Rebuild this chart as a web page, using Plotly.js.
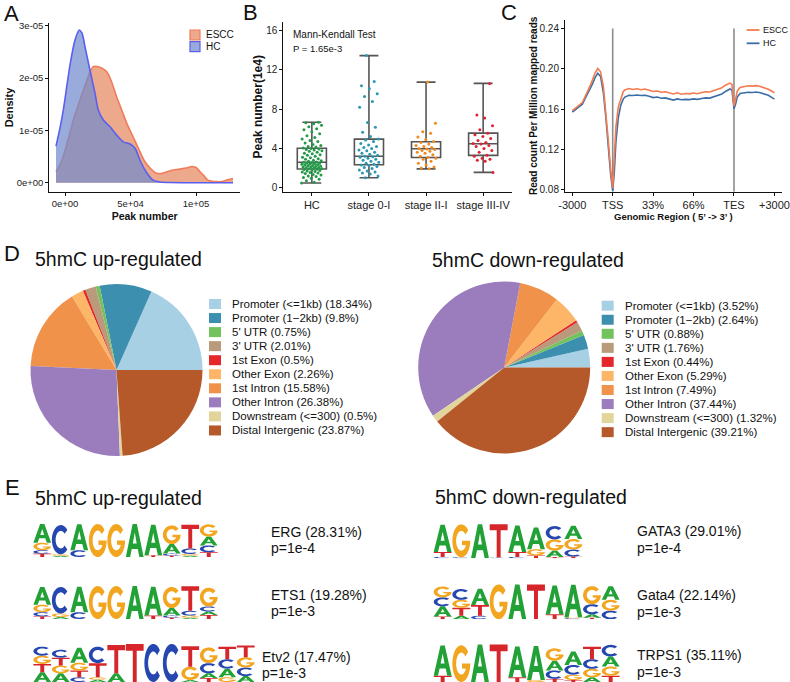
<!DOCTYPE html>
<html><head><meta charset="utf-8">
<script src="https://cdn.plot.ly/plotly-3.0.1.min.js"></script>
<style>html,body{margin:0;padding:0;background:#fff}#chart{width:790px;height:682px}</style>
</head><body><div id="chart"></div>
<script>
const FONT = 'Liberation Sans, Arial, Helvetica, sans-serif';
const W = 790, H = 682;
const px = x => x / W;
const py = y => 1 - y / H;
const dx = (a, b) => [a / W, b / W];
const dy = (t, b) => [1 - b / H, 1 - t / H];

// ---------- Panel A: density ----------
const densXTickVals = [0, 50000, 100000];
const densXTickText = ['0e+00', '5e+04', '1e+05'];
const densYTickVals = [0, 1e-5, 2e-5, 3e-5];
const densYTickText = ['0e+00', '1e-05', '2e-05', '3e-05'];
const esccDensX = [-6870,-2290,2290,6870,11450,16030,19080,21600,24430,28240,31830,35110,39470,43280,47100,51910,57250,61070,64890,68700,72520,76340,80150,87790,92370,96720,100000,103050,106110,109160,115800,119850,123430,128240];
const esccDensY = [0.21,0.43,0.82,1.24,1.58,1.91,2.12,2.22,2.22,2.19,2.12,1.96,1.64,1.39,1.14,0.88,0.59,0.40,0.28,0.195,0.17,0.195,0.23,0.26,0.28,0.31,0.29,0.21,0.13,0.05,0.02,0.023,0.05,0.08]; // x1e-5
const hcDensX = [-6870,-3817,-1300,1530,3817,7634,10916,12980,15270,19080,22900,25420,29240,34350,39470,44500,49620,53440,57250,62370,67180,72520,80150,128240];
const hcDensY = [0.70,1.05,1.39,1.87,2.25,2.73,2.92,2.86,2.60,2.15,1.71,1.39,1.20,1.07,0.91,0.78,0.74,0.66,0.43,0.19,0.05,0.013,0.004,0]; // x1e-5
const densGroups = ['ESCC', 'HC'];

// ---------- Panel B: box plots ----------
const stageCats = ['HC', 'stage 0-I', 'stage II-I', 'stage III-IV'];
const boxLow = [0.48, 1.02, 1.92, 1.56];
const boxQ1 = [1.90, 2.34, 3.08, 3.29];
const boxMed = [2.59, 3.20, 3.96, 4.48];
const boxQ3 = [4.01, 4.95, 4.68, 5.56];
const boxHigh = [6.66, 13.45, 10.75, 10.62];
const ptsHC = [0.48,0.55,0.7,0.85,0.95,1.05,1.15,1.2,1.3,1.35,1.45,1.5,1.55,1.6,1.65,1.7,1.75,1.8,1.85,1.88,
  1.92,1.95,2.0,2.02,2.05,2.1,2.12,2.15,2.2,2.22,2.25,2.3,2.33,2.38,2.4,2.45,2.48,2.5,2.55,2.58,
  2.62,2.7,2.75,2.8,2.9,2.95,3.05,3.1,3.2,3.3,3.35,3.45,3.5,3.6,3.7,3.75,3.85,3.9,3.95,4.0,
  4.05,4.15,4.2,4.3,4.4,4.55,4.7,4.8,4.95,5.1,5.3,5.5,5.7,5.9,6.0,6.2,6.35,6.5,6.6,6.66];
const ptsS0 = [1.02,1.2,1.4,1.5,1.6,1.7,1.8,1.95,2.05,2.15,2.25,2.3,2.4,2.5,2.6,2.7,2.8,2.9,3.0,3.1,3.15,3.2,3.3,3.4,3.5,3.6,3.75,3.85,4.0,4.1,4.2,4.35,4.5,4.7,4.85,4.95,5.2,5.65,6.16,6.63,8.2,8.78,9.29,9.56,10.07,10.37,10.8,13.45];
const ptsS2 = [1.92,2.0,2.1,2.3,2.5,2.7,2.9,3.0,3.1,3.2,3.35,3.5,3.6,3.7,3.8,3.9,3.95,4.0,4.1,4.2,4.3,4.45,4.6,4.7,4.9,5.15,5.55,5.7,6.55,10.75];
const ptsS3 = [1.56,2.7,2.8,2.9,3.0,3.2,3.3,3.6,3.8,4.0,4.2,4.3,4.45,4.5,4.6,4.8,5.0,5.2,5.4,5.55,5.9,6.3,7.1,7.4,10.62];
const stagePts = [ptsHC, ptsS0, ptsS2, ptsS3];
const stageColors = ['#249a48', '#2a98b0', '#ef8a1f', '#e0212f'];

// ---------- Panel C: profile ----------
const profX = [0,0.1,0.19,0.25,0.31,0.38,0.44,0.5,0.56,0.63,0.70,0.77,0.83,0.89,0.95,1.0,1.04,1.08,1.14,1.2,1.26,
  1.3,1.4,1.5,1.6,1.7,1.8,1.9,2.0,2.1,2.2,2.3,2.4,2.5,2.6,2.7,2.8,2.9,3.0,3.1,3.2,3.3,3.4,3.5,3.6,3.7,3.8,3.9,
  3.95,4.0,4.04,4.08,4.15,4.25,4.35,4.45,4.55,4.65,4.75,4.85,4.95,5.0];
const profEscc = [0.1585,0.1615,0.1640,0.1665,0.1718,0.1775,0.1830,0.1890,0.1955,0.2003,0.1970,0.1820,0.1590,0.1295,0.0998,0.0817,0.1130,0.1427,0.1625,0.1708,0.1773,
  0.1790,0.1805,0.1795,0.1802,0.1793,0.1800,0.1788,0.1775,0.1780,0.1768,0.1772,0.1760,0.1750,0.1762,0.1748,0.1755,0.1752,0.1760,0.1753,0.1765,0.1772,0.1770,0.1785,0.1800,0.1812,0.1840,0.1858,
  0.1845,0.1630,0.1700,0.1780,0.1815,0.1825,0.1832,0.1828,0.1833,0.1825,0.1815,0.1798,0.1775,0.1762];
const profHc = [0.1570,0.1600,0.1625,0.1650,0.1700,0.1750,0.1800,0.1850,0.1910,0.1955,0.1925,0.1760,0.1520,0.1220,0.0950,0.0790,0.0980,0.1280,0.1520,0.1640,0.1700,
  0.1720,0.1738,0.1735,0.1740,0.1735,0.1738,0.1728,0.1715,0.1720,0.1708,0.1712,0.1698,0.1690,0.1702,0.1693,0.1697,0.1695,0.1702,0.1697,0.1706,0.1712,0.1710,0.1722,0.1738,0.1750,0.1778,0.1800,
  0.1790,0.1605,0.1650,0.1720,0.1755,0.1760,0.1768,0.1765,0.1770,0.1762,0.1752,0.1738,0.1712,0.1700];
const profTickVals = [0, 1, 2, 3, 4, 5];
const profTickText = ['-3000', 'TSS', '33%', '66%', 'TES', '+3000'];
const profBoundaries = [1, 4];
const profYTicks = [0.08, 0.12, 0.16, 0.20, 0.24];

// ---------- Panel D: pies ----------
const regionLabels = ['Promoter (&lt;=1kb)', 'Promoter (1\u22122kb)', "5' UTR", "3' UTR", '1st Exon', 'Other Exon', '1st Intron', 'Other Intron', 'Downstream (&lt;=300)', 'Distal Intergenic'];
const upPct = [18.34, 9.8, 0.75, 2.01, 0.5, 2.26, 15.58, 26.38, 0.5, 23.87];
const downPct = [3.52, 2.64, 0.88, 1.76, 0.44, 5.29, 7.49, 37.44, 1.32, 39.21];
const regionColors = ['#a8d0e4', '#3d8fb0', '#72c25e', '#b99b7b', '#e5262b', '#fdb568', '#f0924a', '#9b7cbd', '#e2d59c', '#b5592b'];

// ---------- Panel E: motif logos (letters bottom -> top, relative height) ----------
const motifNames = ['ERG (28.31%)', 'ETS1 (19.28%)', 'Etv2 (17.47%)', 'GATA3 (29.01%)', 'Gata4 (22.14%)', 'TRPS1 (35.11%)'];
const motifP = ['p=1e-4', 'p=1e-3', 'p=1e-3', 'p=1e-4', 'p=1e-3', 'p=1e-3'];
const logoERG = [[['T',.10],['C',.10],['G',.22],['A',.55]],[['A',.04],['G',.04],['C',.86]],[['C',.20],['A',.76]],[['G',.97]],[['G',.97]],[['A',.97]],[['T',.05],['A',.90]],[['T',.04],['C',.06],['A',.28],['G',.55]],[['A',.04],['G',.05],['C',.16],['T',.70]],[['T',.14],['C',.20],['A',.26],['G',.36]]];
const logoETS1 = [[['T',.08],['C',.12],['G',.22],['A',.52]],[['A',.06],['G',.10],['C',.78]],[['C',.20],['A',.75]],[['G',.97]],[['G',.97]],[['A',.97]],[['T',.10],['A',.85]],[['T',.04],['C',.06],['A',.22],['G',.62]],[['A',.04],['G',.06],['C',.14],['T',.72]],[['T',.12],['A',.10],['C',.15],['G',.55]]];
const logoEtv2 = [[['A',.25],['T',.21],['G',.21],['C',.23]],[['A',.22],['G',.20],['T',.20],['C',.20]],[['C',.12],['T',.17],['G',.20],['A',.38]],[['A',.06],['G',.06],['T',.36],['C',.42]],[['A',.22],['T',.72]],[['T',.97]],[['C',.97]],[['C',.97]],[['A',.05],['G',.34],['T',.52]],[['T',.10],['A',.12],['C',.26],['G',.40]],[['G',.12],['A',.22],['C',.24],['T',.32]],[['A',.15],['C',.22],['G',.26],['T',.30]]];
const logoGATA3 = [[['C',.04],['T',.14],['A',.78]],[['C',.03],['G',.94]],[['A',.97]],[['C',.02],['T',.95]],[['C',.04],['T',.14],['A',.76]],[['T',.08],['G',.18],['A',.62]],[['T',.04],['A',.18],['G',.32],['C',.38]],[['T',.05],['C',.20],['G',.30],['A',.38]]];
const logoGata4 = [[['T',.08],['A',.28],['C',.25],['G',.30]],[['A',.10],['T',.22],['G',.22],['C',.30]],[['C',.10],['T',.30],['A',.45]],[['G',.97]],[['A',.97]],[['T',.97]],[['T',.14],['A',.80]],[['C',.03],['G',.03],['A',.90]],[['T',.04],['A',.10],['C',.28],['G',.50]],[['C',.24],['G',.30],['A',.38]]];
const logoTRPS1 = [[['T',.16],['A',.78]],[['G',.95]],[['A',.97]],[['T',.97]],[['T',.12],['A',.80]],[['G',.05],['A',.88]],[['T',.08],['C',.22],['A',.25],['G',.32]],[['T',.05],['G',.14],['C',.25],['A',.35]],[['A',.12],['G',.22],['C',.25],['T',.32]],[['T',.16],['G',.24],['A',.26],['C',.30]]];
const motifLogos = [logoERG, logoETS1, logoEtv2, logoGATA3, logoGata4, logoTRPS1];
const letterColors = {A: '#22a236', C: '#2647b0', G: '#f2a51e', T: '#d6262c'};

// ---------- layout helpers ----------
const traces = [];
const shapes = [];
const annotations = [];
const ann = (x, y, text, size, opts) => annotations.push(Object.assign({xref:'paper', yref:'paper', x:px(x), y:py(y), text, showarrow:false, xanchor:'left', yanchor:'middle', font:{family:FONT, size, color:'#111'}}, opts || {}));

const axisBase = {showgrid:false, zeroline:false, showline:true, linecolor:'#111', linewidth:1, ticks:'outside', ticklen:3, tickcolor:'#111', tickwidth:1, fixedrange:true};

// Panel A traces
const densColors = {ESCC:{fill:'rgba(228,128,86,0.68)', line:'#f27b5b'}, HC:{fill:'rgba(112,138,205,0.72)', line:'#5a5ff0'}};
traces.push({type:'scatter', mode:'lines', x:esccDensX, y:esccDensY.map(v => v * 1e-5), xaxis:'x', yaxis:'y', fill:'tozeroy', fillcolor:densColors.ESCC.fill, line:{color:densColors.ESCC.line, width:1.6, shape:'spline', smoothing:0.8}, name:'ESCC', hoverinfo:'skip'});
traces.push({type:'scatter', mode:'lines', x:hcDensX, y:hcDensY.map(v => v * 1e-5), xaxis:'x', yaxis:'y', fill:'tozeroy', fillcolor:densColors.HC.fill, line:{color:densColors.HC.line, width:1.6, shape:'spline', smoothing:0.8}, name:'HC', hoverinfo:'skip'});
densGroups.forEach((g, i) => {
  const y = 30 + i * 11.7;
  shapes.push({type:'rect', xref:'paper', yref:'paper', x0:px(190), x1:px(200), y0:py(y + 10), y1:py(y), fillcolor:densColors[g].fill, line:{color:densColors[g].line, width:1.2}});
  ann(204, y + 5, g, 10);
});

// Panel B traces
traces.push({type:'box', x:[1,2,3,4], q1:boxQ1, median:boxMed, q3:boxQ3, lowerfence:boxLow, upperfence:boxHigh, xaxis:'x2', yaxis:'y2', width:0.51, whiskerwidth:0.65, fillcolor:'rgba(0,0,0,0)', line:{color:'#555', width:1.6}, boxpoints:false, hoverinfo:'skip'});
const jitter = i => (((i * 0.6180339887) % 1) - 0.5) * 0.36;
stagePts.forEach((vals, g) => {
  traces.push({type:'scatter', mode:'markers', x:vals.map((v, i) => g + 1 + jitter(i + g * 7)), y:vals, xaxis:'x2', yaxis:'y2', marker:{color:stageColors[g], size:3}, hoverinfo:'skip'});
});
ann(291, 35, 'Mann-Kendall Test', 10);
ann(291, 48.5, 'P = 1.65e-3', 9.5);

// Panel C traces
traces.push({type:'scatter', mode:'lines', x:profX, y:profHc, xaxis:'x3', yaxis:'y3', line:{color:'#3a6ea8', width:1.6}, name:'HC', hoverinfo:'skip'});
traces.push({type:'scatter', mode:'lines', x:profX, y:profEscc, xaxis:'x3', yaxis:'y3', line:{color:'#f47b4f', width:1.6}, name:'ESCC', hoverinfo:'skip'});
profBoundaries.forEach(b => shapes.push({type:'line', xref:'x3', yref:'y3', x0:b, x1:b, y0:0.0783, y1:0.24, line:{color:'#8c8c8c', width:1.6}, layer:'below'}));
[['ESCC', '#f47b4f', 30], ['HC', '#3a6ea8', 43.3]].forEach(([n, c, y]) => {
  shapes.push({type:'line', xref:'paper', yref:'paper', x0:px(746.7), x1:px(759.5), y0:py(y), y1:py(y), line:{color:c, width:1.8}});
  ann(761, y, n, 9);
});

// Panel D pies (first slice starts at 3 o'clock, counterclockwise)
const startRot = pct => 90 - 360 * pct[0] / pct.reduce((a, b) => a + b, 0);
traces.push({type:'pie', values:upPct, labels:regionLabels, marker:{colors:regionColors, line:{width:0}}, sort:false, direction:'counterclockwise', rotation:startRot(upPct), textinfo:'none', hoverinfo:'label+percent', showlegend:false, domain:{x:dx(30.5,202.5), y:dy(284,456)}});
traces.push({type:'pie', values:downPct, labels:regionLabels, marker:{colors:regionColors, line:{width:0}}, sort:false, direction:'counterclockwise', rotation:startRot(downPct), textinfo:'none', hoverinfo:'label+percent', showlegend:false, domain:{x:dx(418.2,590.2), y:dy(281.5,453.5)}});
regionLabels.forEach((lab, i) => {
  [[upPct, 209, 230, 304], [downPct, 601.7, 622.7, 305.7]].forEach(([pct, kx, tx, y0]) => {
    const y = y0 + i * 14.05;
    shapes.push({type:'rect', xref:'paper', yref:'paper', x0:px(kx), x1:px(kx + 12), y0:py(y + 5), y1:py(y - 5), fillcolor:regionColors[i], line:{width:0}});
    ann(tx, y, lab + ' (' + pct[i] + '%)', 11.5);
  });
});
ann(33, 258.5, '5hmC up-regulated', 19.5);
ann(430, 259.5, '5hmC down-regulated', 19.5);

// Panel E logos
function ring(cx, cy, rx, ry, a0, a1, n) {
  const pts = [];
  for (let k = 0; k <= n; k++) { const a = (a0 + (a1 - a0) * k / n) * Math.PI / 180; pts.push([cx + rx * Math.cos(a), cy + ry * Math.sin(a)]); }
  return pts;
}
const GLYPHS = {
  A: [[[0,0],[0.38,1],[0.62,1],[1,0],[0.76,0],[0.67,0.24],[0.33,0.24],[0.24,0]], [[0.39,0.41],[0.61,0.41],[0.5,0.74]]],
  T: [[[0,1],[1,1],[1,0.82],[0.61,0.82],[0.61,0],[0.39,0],[0.39,0.82],[0,0.82]]],
  C: [ring(0.5,0.5,0.5,0.5,42,318,30).concat(ring(0.5,0.5,0.29,0.3,318,42,30))],
  G: [ring(0.5,0.5,0.5,0.5,40,360,30).concat([[0.54,0.5],[0.54,0.37]]).concat(ring(0.5,0.5,0.29,0.3,333,40,30))]
};
const logoBoxes = [[33,218,523,557],[33,218,585,619],[33,255,642.7,682],[433.3,582.7,523.3,558.3],[433.3,620,583.3,619.3],[433.3,620,643.3,682]];
const labelPos = [[269,531.7,548.3],[269,595,610.5],[260,656.7,673],[635,530.7,548.3],[635,595,611.7],[635,655,671.7]];
const extraAxes = {};
motifLogos.forEach((logo, k) => {
  const ax = 4 + k;
  const [x0, x1, y0, y1] = logoBoxes[k];
  extraAxes['xaxis' + ax] = {domain:dx(x0, x1), range:[0, logo.length], visible:false, fixedrange:true, anchor:'y' + ax};
  extraAxes['yaxis' + ax] = {domain:dy(y0, y1), range:[0, 1], visible:false, fixedrange:true, anchor:'x' + ax};
  logo.forEach((stack, i) => {
    let base = 0;
    stack.forEach(([letter, h]) => {
      const X = u => i + 0.02 + u * 0.96;
      const Y = v => base + v * h;
      const path = GLYPHS[letter].map(r => 'M' + r.map(p => X(p[0]).toFixed(4) + ',' + Y(p[1]).toFixed(4)).join('L') + 'Z').join('');
      shapes.push({type:'path', xref:'x' + ax, yref:'y' + ax, path, fillcolor:letterColors[letter], line:{width:0}});
      base += h;
    });
  });
  const [lx, ly1, ly2] = labelPos[k];
  ann(lx, ly1, motifNames[k], 14);
  ann(lx, ly2, motifP[k], 14);
});
ann(33, 498.3, '5hmC up-regulated', 19.5);
ann(433, 497.3, '5hmC down-regulated', 19.5);

// Panel letters
[['A',2,14],['B',241,13],['C',499,12.5],['D',2,253],['E',3,487]].forEach(([t, x, y]) => ann(x, y, t, 22));

const layout = Object.assign({
  width: W, height: H, margin:{l:0, r:0, t:0, b:0}, paper_bgcolor:'#fff', plot_bgcolor:'rgba(0,0,0,0)', showlegend:false,
  font:{family:FONT, color:'#111'},
  xaxis: Object.assign({}, axisBase, {domain:dx(49.3,240), range:[-11985,133590], anchor:'y', tickvals:densXTickVals, ticktext:densXTickText, tickfont:{size:9.5, color:'#222'}, title:{text:'Peak number', font:{size:10.5, weight:'bold'}, standoff:4}}),
  yaxis: Object.assign({}, axisBase, {domain:dy(23.3,191.7), range:[-0.172e-5, 3.048e-5], anchor:'x', tickvals:densYTickVals, ticktext:densYTickText, tickfont:{size:9.5, color:'#222'}, title:{text:'Density', font:{size:11, weight:'bold'}, standoff:0}}),
  xaxis2: Object.assign({}, axisBase, {domain:dx(283.3,511.7), range:[0.5,4.5], anchor:'y2', tickvals:[1,2,3,4], ticktext:stageCats, tickfont:{size:11, color:'#222'}}),
  yaxis2: Object.assign({}, axisBase, {domain:dy(21.7,191.7), range:[-0.407,16.9], anchor:'x2', tickvals:[0,4,8,12,16], tickfont:{size:10, color:'#222'}, title:{text:'Peak number(1e4)', font:{size:12, weight:'bold'}, standoff:0}}),
  xaxis3: Object.assign({}, axisBase, {domain:dx(565,781.7), range:[-0.18,5.18], anchor:'y3', tickvals:profTickVals, ticktext:profTickText, tickfont:{size:11, color:'#222'}, title:{text:'Genomic Region ( 5\u2019 -&gt; 3\u2019 )', font:{size:9.5, weight:'bold'}, standoff:2}}),
  yaxis3: Object.assign({}, axisBase, {domain:dy(20,191.7), range:[0.0783,0.2483], anchor:'x3', tickvals:profYTicks, tickformat:'.2f', tickfont:{size:10, color:'#222'}, title:{text:'Read count Per Million mapped reads', font:{size:10, weight:'bold'}, standoff:0}}),
  shapes, annotations
}, extraAxes);

Plotly.newPlot('chart', traces, layout, {staticPlot:true, displayModeBar:false});
</script></body></html>
